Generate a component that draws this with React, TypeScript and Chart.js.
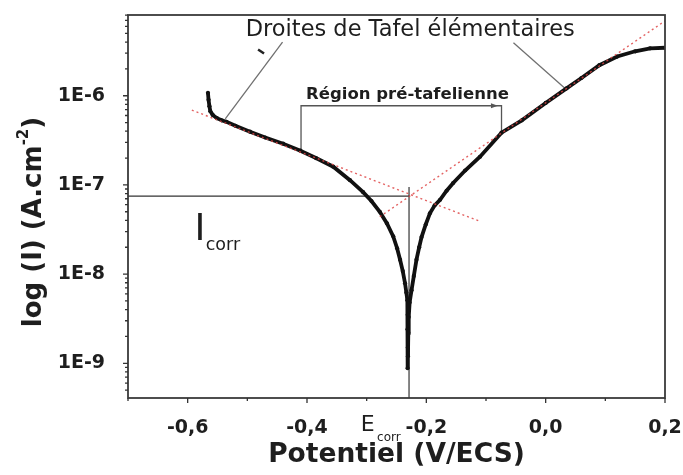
import React, { useEffect, useRef } from 'react';
import { Chart, registerables } from 'chart.js';

Chart.register(...registerables);

// ---- axis ranges ----
const X_MIN = -0.7;
const X_MAX = 0.2;
const Y_MIN = 4.08e-10;
const Y_MAX = 8.04e-6;

// ---- polarisation curve (E in V/ECS, I in A.cm-2) ----
const cathodicE = [-0.566, -0.565, -0.5635, -0.562, -0.558, -0.551, -0.543, -0.535, -0.52, -0.4955, -0.47, -0.44, -0.411, -0.385, -0.356, -0.328, -0.306, -0.292, -0.278, -0.266, -0.2555, -0.249, -0.244, -0.2395, -0.2357, -0.2335, -0.2318, -0.2312, -0.2316, -0.231, -0.2314];
const cathodicI = [1.08e-6, 9.0e-7, 7.6e-7, 6.7e-7, 6.1e-7, 5.6e-7, 5.3e-7, 5.1e-7, 4.6e-7, 3.95e-7, 3.4e-7, 2.9e-7, 2.42e-7, 2.0e-7, 1.6e-7, 1.13e-7, 8.3e-8, 6.6e-8, 5.0e-8, 3.7e-8, 2.65e-8, 1.95e-8, 1.45e-8, 1.08e-8, 7.9e-9, 6.2e-9, 5.1e-9, 3.5e-9, 2.4e-9, 1.5e-9, 8.8e-10];
const anodicE = [-0.2308, -0.2302, -0.2295, -0.228, -0.2248, -0.221, -0.2165, -0.212, -0.208, -0.201, -0.194, -0.186, -0.177, -0.166, -0.155, -0.135, -0.11, -0.074, -0.04, 0.0, 0.035, 0.06, 0.09, 0.12, 0.15, 0.175, 0.2];
const anodicI = [1.2e-9, 2.2e-9, 3.3e-9, 4.8e-9, 6.6e-9, 9.5e-9, 1.45e-8, 2.0e-8, 2.6e-8, 3.6e-8, 4.8e-8, 5.9e-8, 6.8e-8, 8.6e-8, 1.05e-7, 1.45e-7, 2.07e-7, 3.85e-7, 5.3e-7, 8.3e-7, 1.21e-6, 1.58e-6, 2.2e-6, 2.75e-6, 3.15e-6, 3.4e-6, 3.45e-6];

// ---- Tafel lines ----
const tafelCathodicE = [-0.593, -0.11];
const tafelCathodicI = [6.9e-7, 3.9e-8];
const tafelAnodicE = [-0.278, 0.2];
const tafelAnodicI = [4.4e-8, 6.9e-6];

// ---- Icorr / Ecorr construction lines ----
const icorrLineE = [X_MIN, -0.228];
const icorrLineI = [7.5e-8, 7.5e-8];
const ecorrLineE = [-0.229, -0.229];
const ecorrLineI = [Y_MIN, 9.5e-8];

// ---- annotation callouts ----
const leftCalloutE = [-0.441, -0.537];
const leftCalloutI = [4.0e-6, 5.5e-7];
const rightCalloutE = [-0.054, 0.036];
const rightCalloutI = [3.93e-6, 1.15e-6];
const strayMarkE = [-0.482, -0.472];
const strayMarkI = [3.3e-6, 2.98e-6];
const bracketE = [-0.41, -0.41, -0.074, -0.074];
const bracketI = [2.42e-7, 7.72e-7, 7.72e-7, 3.85e-7];
const arrowTipE = -0.08;

// ---- annotation texts ----
const titleText = 'Droites de Tafel élémentaires';
const titleE = -0.227;
const titleI = 4.67e-6;
const regionText = 'Région pré-tafelienne';
const regionE = -0.2316;
const regionI = 9.18e-7;
const icorrE = -0.5885;
const icorrI = 2.41e-8;
const icorrSubE = -0.5697;
const icorrSubI = 1.86e-8;
const ecorrE = -0.3098;
const ecorrSubE = -0.2826;

const FONT = "'DejaVu Sans', 'Liberation Sans', sans-serif";
const TEXT = '#1e1e1e';

const pts = (xs: number[], ys: number[]) => xs.map((x, i) => ({ x, y: ys[i] }));

export default function App() {
  const ref = useRef<HTMLCanvasElement>(null);

  useEffect(() => {
    const canvas = ref.current;
    if (!canvas) return;

    const annot = {
      id: 'annot',
      afterDraw(chart: any) {
        const ctx = chart.ctx as CanvasRenderingContext2D;
        const xs = chart.scales.x;
        const ys = chart.scales.y;
        const ca = chart.chartArea;
        const px = (v: number) => xs.getPixelForValue(v);
        const py = (v: number) => ys.getPixelForValue(v);
        ctx.save();

        // frame
        ctx.strokeStyle = '#3a3a3a';
        ctx.lineWidth = 1.8;
        ctx.strokeRect(ca.left, ca.top, ca.right - ca.left, ca.bottom - ca.top);

        // tick marks (outward)
        ctx.lineWidth = 1.3;
        ctx.strokeStyle = '#333';
        ctx.beginPath();
        xs.ticks.forEach((t: any) => {
          const p = px(t.value);
          const major = Math.abs(Math.round(t.value * 10) % 2) === 0;
          ctx.moveTo(p, ca.bottom);
          ctx.lineTo(p, ca.bottom + (major ? 5 : 3));
        });
        ys.ticks.forEach((t: any) => {
          const p = py(t.value);
          const e = Math.floor(Math.log10(t.value) + 1e-9);
          const k = t.value / Math.pow(10, e);
          const major = Math.abs(k - 1) < 1e-6;
          ctx.moveTo(ca.left, p);
          ctx.lineTo(ca.left - (major ? 5 : 3), p);
        });
        ctx.stroke();

        // arrow head on bracket
        const ax = px(arrowTipE);
        const ay = py(bracketI[1]);
        ctx.fillStyle = '#555';
        ctx.beginPath();
        ctx.moveTo(ax, ay);
        ctx.lineTo(ax - 7, ay - 2.5);
        ctx.lineTo(ax - 7, ay + 2.5);
        ctx.closePath();
        ctx.fill();

        ctx.fillStyle = TEXT;
        ctx.textBaseline = 'alphabetic';

        // Droites de Tafel
        ctx.font = `22.5px ${FONT}`;
        ctx.textAlign = 'center';
        ctx.fillText(titleText, px(titleE), py(titleI));

        // Région pré-tafelienne
        ctx.font = `bold 16.5px ${FONT}`;
        ctx.fillText(regionText, px(regionE), py(regionI));

        // Icorr
        ctx.textAlign = 'left';
        ctx.font = `37px ${FONT}`;
        ctx.fillText('I', px(icorrE), py(icorrI));
        ctx.font = `17.5px ${FONT}`;
        ctx.fillText('corr', px(icorrSubE), py(icorrSubI));

        // Ecorr (below the axis)
        ctx.font = `22px ${FONT}`;
        ctx.fillText('E', px(ecorrE), ca.bottom + 33);
        ctx.font = `12px ${FONT}`;
        ctx.fillText('corr', px(ecorrSubE), ca.bottom + 43);

        // y axis title
        const main = 'log (I) (A.cm';
        const sup = '-2';
        const close = ')';
        ctx.font = `bold 26px ${FONT}`;
        const wMain = ctx.measureText(main).width;
        const wClose = ctx.measureText(close).width;
        ctx.font = `bold 15px ${FONT}`;
        const wSup = ctx.measureText(sup).width;
        const total = wMain + wSup + wClose;
        ctx.translate(ys.left + 41, (ca.top + ca.bottom) / 2 + 15.5);
        ctx.rotate(-Math.PI / 2);
        const s = -total / 2;
        ctx.font = `bold 26px ${FONT}`;
        ctx.fillText(main, s, 0);
        ctx.fillText(close, s + wMain + wSup, 0);
        ctx.font = `bold 15px ${FONT}`;
        ctx.fillText(sup, s + wMain, -13);

        ctx.restore();
      },
    };

    const tafelStyle = {
      showLine: true,
      borderColor: 'rgba(222,70,70,0.85)',
      borderWidth: 1.4,
      borderDash: [2, 3],
      pointRadius: 0,
      order: 0,
    };
    const curveStyle = {
      showLine: true,
      borderColor: '#111',
      backgroundColor: '#111',
      borderWidth: 3.8,
      pointRadius: 2.1,
      pointBorderWidth: 0,
      order: 2,
    };
    const thinStyle = {
      showLine: true,
      borderColor: '#333',
      borderWidth: 1.2,
      pointRadius: 0,
      order: 3,
    };
    const calloutStyle = {
      showLine: true,
      borderColor: '#707070',
      borderWidth: 1.3,
      pointRadius: 0,
      order: 3,
    };

    const chart = new Chart(canvas, {
      type: 'scatter',
      data: {
        datasets: [
          { label: 'Tafel cathodique', data: pts(tafelCathodicE, tafelCathodicI), ...tafelStyle },
          { label: 'Tafel anodique', data: pts(tafelAnodicE, tafelAnodicI), ...tafelStyle },
          { label: 'Branche cathodique', data: pts(cathodicE, cathodicI), ...curveStyle },
          { label: 'Branche anodique', data: pts(anodicE, anodicI), ...curveStyle },
          { label: 'Icorr', data: pts(icorrLineE, icorrLineI), ...thinStyle },
          { label: 'Ecorr', data: pts(ecorrLineE, ecorrLineI), ...thinStyle },
          { label: 'callout1', data: pts(leftCalloutE, leftCalloutI), ...calloutStyle },
          { label: 'callout2', data: pts(rightCalloutE, rightCalloutI), ...calloutStyle },
          { label: 'bracket', data: pts(bracketE, bracketI), ...calloutStyle, borderColor: '#555' },
          { label: 'mark', data: pts(strayMarkE, strayMarkI), ...thinStyle, borderColor: '#222', borderWidth: 2.5 },
        ] as any,
      },
      options: {
        responsive: false,
        animation: false,
        devicePixelRatio: 1,
        events: [],
        layout: { padding: { top: 15, right: 18, left: 0, bottom: 0 } },
        plugins: { legend: { display: false }, tooltip: { enabled: false } },
        scales: {
          x: {
            type: 'linear',
            min: X_MIN,
            max: X_MAX,
            grid: { display: false },
            border: { display: false },
            ticks: {
              stepSize: 0.1,
              autoSkip: false,
              maxRotation: 0,
              padding: 11,
              color: TEXT,
              font: { family: FONT, size: 19, weight: 'bold' },
              callback: (v: any) => {
                const n = Math.round(Number(v) * 10);
                if (Math.abs(n % 2) !== 0) return '';
                return (n / 10).toFixed(1).replace('.', ',').replace('-0,0', '0,0');
              },
            },
            title: {
              display: true,
              text: 'Potentiel (V/ECS)',
              color: TEXT,
              font: { family: FONT, size: 26.5, weight: 'bold' },
              padding: { top: 0, bottom: 3.6 },
            },
            afterFit: (scale: any) => {
              scale.height = 77;
              scale.paddingLeft = 0;
              scale.paddingRight = 0;
            },
          },
          y: {
            type: 'logarithmic',
            min: Y_MIN,
            max: Y_MAX,
            grid: { display: false },
            border: { display: false },
            afterBuildTicks: (scale: any) => {
              const ticks: any[] = [];
              for (let e = -10; e <= -5; e++) {
                for (let k = 1; k <= 9; k++) {
                  const v = k * Math.pow(10, e);
                  if (v >= Y_MIN && v <= Y_MAX) ticks.push({ value: v, major: k === 1 });
                }
              }
              scale.ticks = ticks;
            },
            ticks: {
              autoSkip: false,
              padding: 15,
              color: TEXT,
              font: { family: FONT, size: 19, weight: 'bold' },
              callback: (v: any) => {
                const val = Number(v);
                const e = Math.round(Math.log10(val));
                return Math.abs(val / Math.pow(10, e) - 1) < 1e-6 ? `1E${e}` : '';
              },
            },
            afterFit: (scale: any) => {
              scale.width = 128;
              scale.paddingTop = 0;
              scale.paddingBottom = 0;
            },
          },
        },
      } as any,
      plugins: [annot],
    });

    return () => chart.destroy();
  }, []);

  return (
    <canvas
      ref={ref}
      width={683}
      height={475}
      style={{ position: 'absolute', left: 0, top: 0, display: 'block', background: '#fff' }}
    />
  );
}
